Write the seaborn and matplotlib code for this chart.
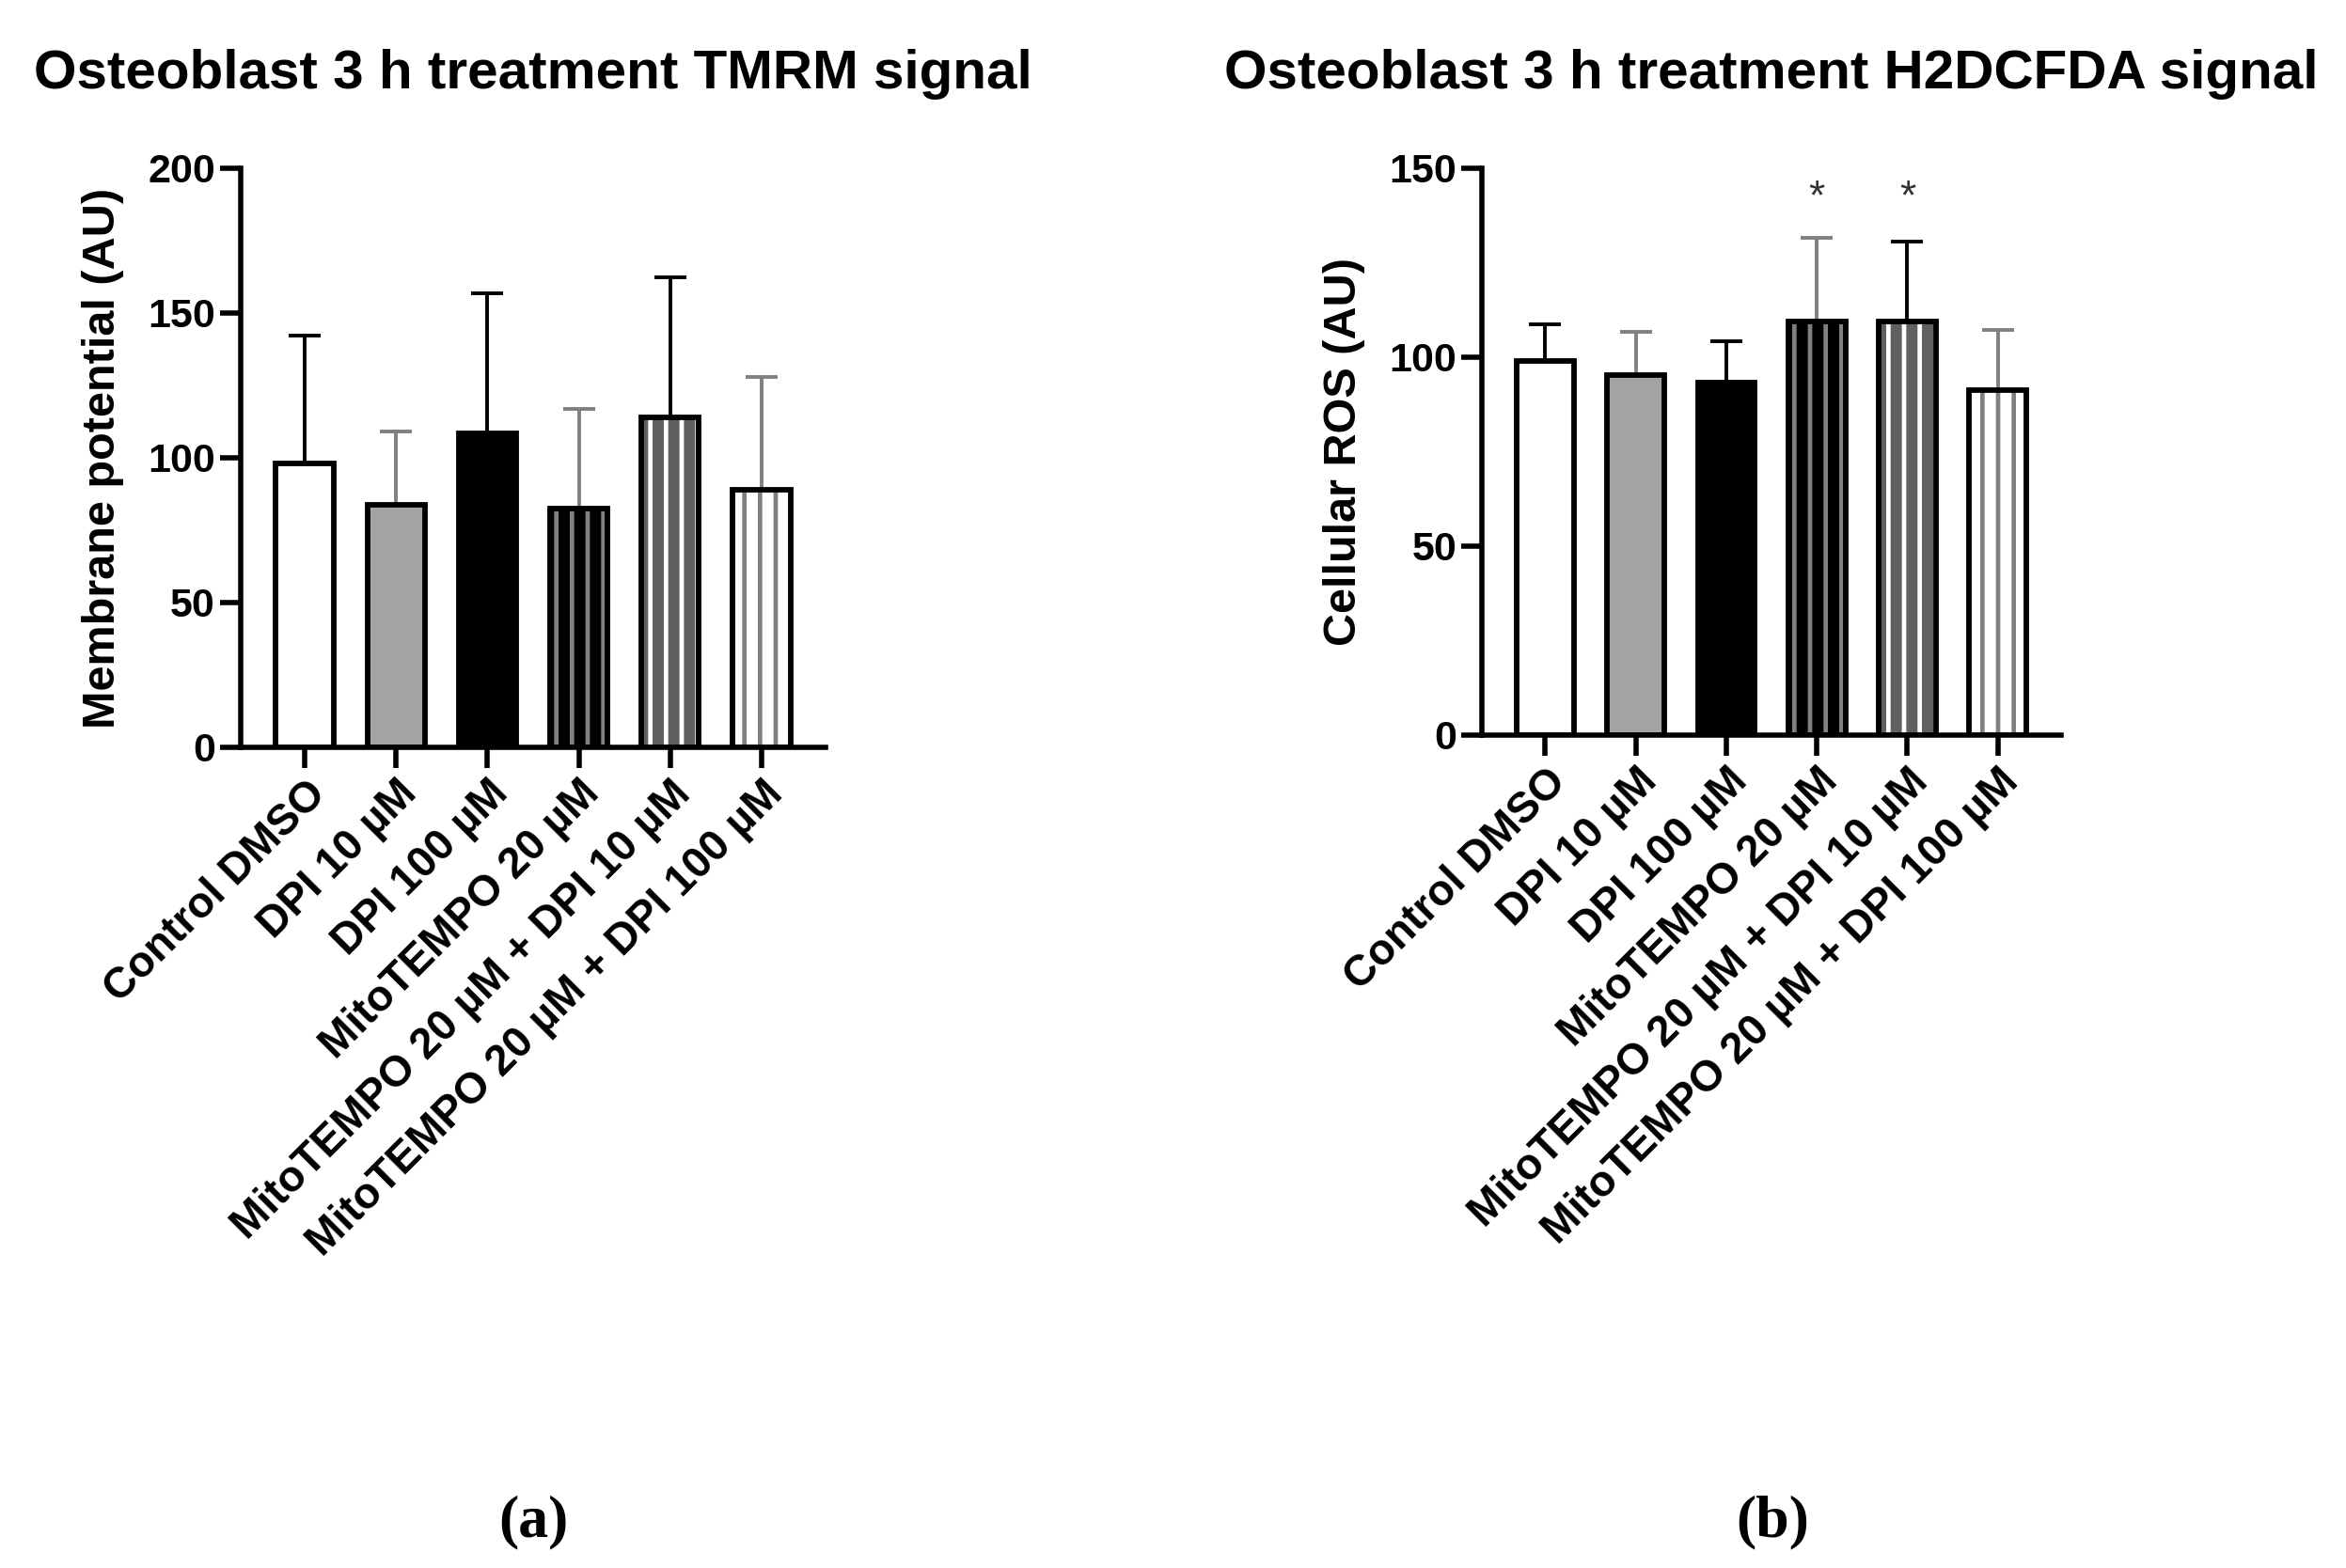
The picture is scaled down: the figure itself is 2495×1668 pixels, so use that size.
import matplotlib
matplotlib.use('Agg')
import matplotlib.pyplot as plt
import seaborn as sns
import numpy as np

sns.set_style('ticks')
plt.rcParams['font.family'] = ['Liberation Sans', 'DejaVu Sans']
plt.rcParams['font.weight'] = 'bold'
plt.rcParams['text.color'] = 'black'
plt.rcParams['axes.labelcolor'] = 'black'
plt.rcParams['hatch.linewidth'] = 3.4

# data
groups = ['Control DMSO', 'DPI 10 µM', 'DPI 100 µM', 'MitoTEMPO 20 µM',
          'MitoTEMPO 20 µM + DPI 10 µM', 'MitoTEMPO 20 µM + DPI 100 µM']
tmrm_mean = [97.9, 83.9, 108.3, 82.3, 113.9, 88.9]
tmrm_top = [142.3, 109.0, 156.9, 116.9, 162.4, 128.0]
ros_mean = [99.0, 95.2, 93.3, 109.4, 109.4, 91.4]
ros_top = [108.6, 106.8, 104.3, 131.6, 130.5, 107.3]
ros_stars = ['', '', '', '*', '*', '']

# bar styling
fills = ['white', '#a2a2a6', 'black', 'black', '#606060', 'white']
stripes = [None, None, None, '#808080', 'white', '#808080']
err_colors = ['black', '#808080', 'black', '#808080', 'black', '#808080']
cap_color = '#454545'
bar_w = 0.63


def draw_panel(ax, means, tops, ylim, yticks, ylabel, title, stars=None):
    sns.barplot(x=groups, y=means, hue=groups, palette=fills, legend=False,
                width=bar_w, linewidth=0, errorbar=None, ax=ax, zorder=2)
    for patch, st in zip(ax.patches, stripes):
        if st is not None:
            patch.set_hatch('|')
            patch.set_edgecolor(st)
            patch.set_linewidth(0)
    # error bars (upper only)
    for i, g in enumerate(groups):
        err = tops[i] - means[i]
        _, caps, _ = ax.errorbar([g], [means[i]], yerr=[[0], [err]], fmt='none',
                                 ecolor=err_colors[i], elinewidth=2.8,
                                 capsize=12.5, capthick=2.8, zorder=1)
        for c in caps:
            c.set_color(cap_color)
    # black outlines on top
    sns.barplot(x=groups, y=means, fill=False, color='black', width=bar_w,
                linewidth=4.2, errorbar=None, ax=ax, zorder=3)
    if stars is not None:
        for g, s in zip(groups, stars):
            if s:
                ax.text(g, 142, s, ha='center', va='center', fontsize=32,
                        color='#333333', fontweight='normal')
    ax.set_xlim(-0.7, 5.7)
    ax.set_ylim(*ylim)
    ax.set_yticks(yticks)
    ax.set_ylabel(ylabel, fontsize=35, fontweight='bold', labelpad=18)
    ax.set_xlabel('')
    ax.set_title(title, fontsize=42, fontweight='bold', pad=61, color='black')
    ax.tick_params(axis='both', width=4, length=16, labelsize=31, colors='black')
    ax.set_xticks(range(len(groups)))
    ax.set_xticklabels(groups, rotation=45, ha='right', rotation_mode='anchor',
                       fontsize=33, fontweight='bold')
    for lab in ax.get_yticklabels():
        lab.set_fontweight('bold')
    sns.despine(ax=ax)
    for sp in ['left', 'bottom']:
        ax.spines[sp].set_linewidth(4)
        ax.spines[sp].set_color('black')


fig = plt.figure(figsize=(24.95, 16.68), dpi=100)
ax1 = fig.add_axes([0.1026, 0.5234, 0.2493, 0.3693])
ax2 = fig.add_axes([0.6317, 0.5312, 0.2469, 0.3615])

draw_panel(ax1, tmrm_mean, tmrm_top, (0, 200), [0, 50, 100, 150, 200],
           'Membrane potential (AU)', 'Osteoblast 3 h treatment TMRM signal')
draw_panel(ax2, ros_mean, ros_top, (0, 150), [0, 50, 100, 150],
           'Cellular ROS (AU)', 'Osteoblast 3 h treatment H2DCFDA signal',
           stars=ros_stars)

fig.text(0.2273, 0.0294, '(a)', ha='center', va='center', fontsize=46,
         family='Liberation Serif', fontweight='bold')
fig.text(0.7555, 0.0294, '(b)', ha='center', va='center', fontsize=46,
         family='Liberation Serif', fontweight='bold')

fig.savefig('out.png', dpi=100, facecolor='white')
